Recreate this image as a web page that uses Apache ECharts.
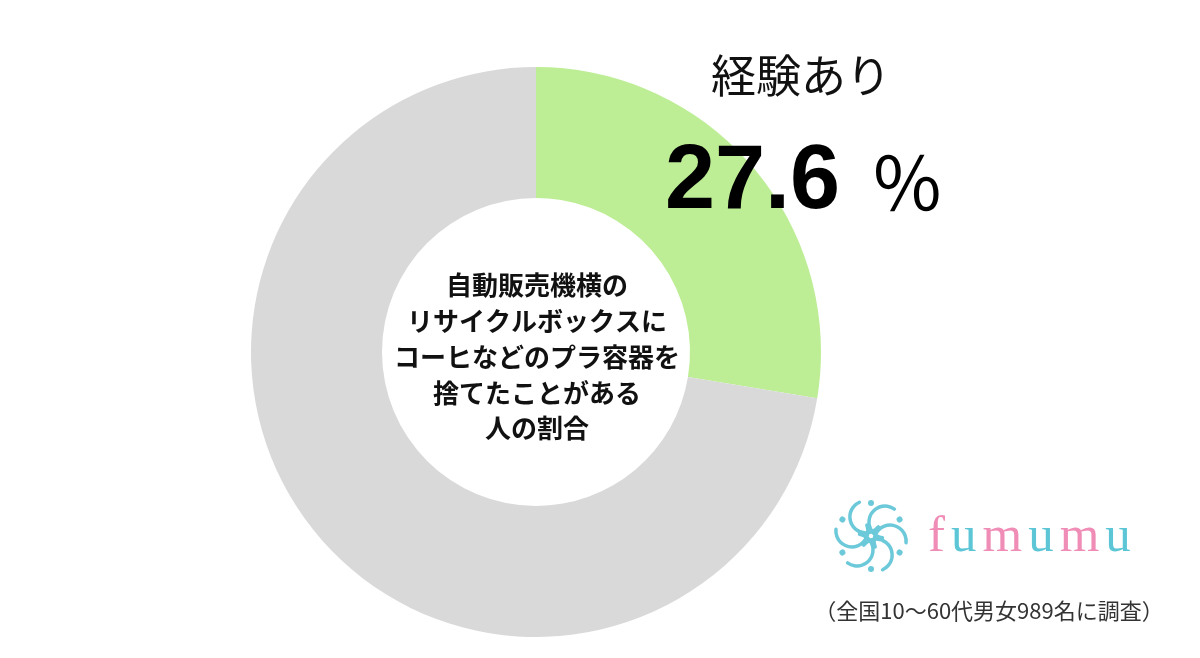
<!DOCTYPE html>
<html><head><meta charset="utf-8">
<script src="https://cdn.jsdelivr.net/npm/echarts@6/dist/echarts.min.js"></script>
<style>html,body{margin:0;padding:0;background:#fff}#c{width:1200px;height:658px}</style>
</head><body><div id="c"></div>
<script>
const categories = ['経験あり', '経験なし'];
const values = [27.6, 72.4];
const colors = ['#bdee95', '#d9d9d9'];
const centerLines = ['自動販売機横の', 'リサイクルボックスに', 'コーヒなどのプラ容器を', '捨てたことがある', '人の割合'];
const highlightLabel = categories[0];
const highlightValue = values[0];
const footnote = '（全国10～60代男女989名に調査）';

const chart = echarts.init(document.getElementById('c'), null, {renderer: 'canvas'});
const jp = '"Noto Sans CJK JP", "Noto Sans", sans-serif';

const petals = [];
for (let i = 0; i < 6; i++) {
  petals.push({
    type: 'arc', rotation: i * Math.PI / 3, originX: 0, originY: 0,
    shape: {cx: 14, cy: -14, r: 16, startAngle: Math.PI * 0.55, endAngle: Math.PI * 1.7},
    style: {stroke: '#6cc9d9', lineWidth: 3.5, fill: null, lineCap: 'round'}
  });
  petals.push({
    type: 'circle', rotation: i * Math.PI / 3, originX: 0, originY: 0,
    shape: {cx: 0, cy: -33, r: 3},
    style: {fill: '#6cc9d9'}
  });
}

chart.setOption({
  backgroundColor: '#fff',
  animation: false,
  series: [{
    type: 'pie',
    center: [536, 352],
    radius: [154, 285],
    startAngle: 90,
    clockwise: true,
    silent: true,
    z: 1,
    label: {show: false},
    labelLine: {show: false},
    itemStyle: {borderWidth: 0},
    data: categories.map((c, i) => ({name: c, value: values[i], itemStyle: {color: colors[i]}}))
  }],
  graphic: [
    {
      type: 'text', x: 537, y: 357, z: 100, silent: true,
      style: {
        text: centerLines.join('\n'), font: 'bold 26px ' + jp, fill: '#111',
        align: 'center', verticalAlign: 'middle', lineHeight: 35.7
      }
    },
    {
      type: 'text', x: 801, y: 76, z: 100, silent: true,
      style: {text: highlightLabel, font: 'normal 45px ' + jp, fill: '#111', align: 'center', verticalAlign: 'middle'}
    },
    {
      type: 'text', x: 665, y: 183, z: 100, silent: true,
      style: {
        text: '{n|' + highlightValue.toFixed(1) + '}{p|％}', align: 'left', verticalAlign: 'middle',
        rich: {
          n: {font: 'bold 90px "Liberation Sans", Arial, sans-serif', fill: '#000', padding: [0, 30, 0, 0]},
          p: {font: 'normal 74px ' + jp, fill: '#000'}
        }
      }
    },
    {
      type: 'group', x: 871, y: 536, z: 100, silent: true, children: petals
    },
    {
      type: 'text', x: 928, y: 538, z: 100, silent: true,
      style: {
        text: '{a|f}{b|u}{a|m}{b|u}{a|m}{b|u}', align: 'left', verticalAlign: 'middle',
        rich: {
          a: {font: 'normal 51px "Liberation Serif", "DejaVu Serif", serif', fill: '#f08db7', padding: [0, 6, 0, 0]},
          b: {font: 'normal 51px "Liberation Serif", "DejaVu Serif", serif', fill: '#5cc6d6', padding: [0, 6, 0, 0]}
        }
      }
    },
    {
      type: 'text', x: 989, y: 611, z: 100, silent: true,
      style: {text: footnote, font: 'normal 22px ' + jp, fill: '#333', align: 'center', verticalAlign: 'middle'}
    }
  ]
});
</script></body></html>
